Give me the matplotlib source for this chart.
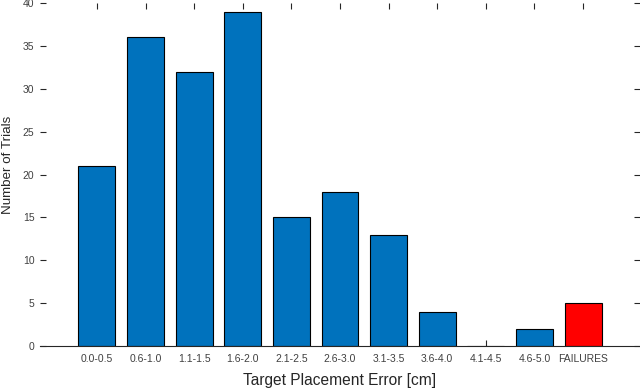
import matplotlib
matplotlib.use("Agg")
import matplotlib.pyplot as plt
import numpy as np

matplotlib.rcParams.update({"font.family": ["Liberation Sans", "DejaVu Sans"]})

categories = ["0.0-0.5", "0.6-1.0", "1.1-1.5", "1.6-2.0", "2.1-2.5", "2.6-3.0",
              "3.1-3.5", "3.6-4.0", "4.1-4.5", "4.6-5.0", "FAILURES"]
trials = [21, 36, 32, 39, 15, 18, 13, 4, 0, 2, 5]

x = np.arange(1, len(categories) + 1)
colors = ["#0072BD"] * (len(categories) - 1) + ["#FF0000"]

fig = plt.figure(figsize=(6.4, 3.88), dpi=100)
ax = fig.add_axes([0.0625, 0.108, 0.9375, 0.884])

ax.bar(x, trials, width=0.76, color=colors, edgecolor="black", linewidth=0.8, zorder=2)

ax.set_xlim(-0.17, 12.17)
ax.set_ylim(0, 40)
ax.set_xticks(x)
ax.set_xticklabels(categories)
ax.set_yticks(np.arange(0, 41, 5))

for side in ["top", "right", "left"]:
    ax.spines[side].set_visible(False)
ax.spines["bottom"].set_color("#262626")
ax.spines["bottom"].set_linewidth(0.8)

ax.tick_params(axis="both", direction="in", length=4, width=0.8, color="#262626",
               labelsize=7.5, labelcolor="#404040", top=True, right=True)
ax.tick_params(axis="y", pad=4)
ax.tick_params(axis="x", pad=6)
for t in ax.get_xticklines() + ax.get_yticklines():
    t.set_zorder(3)

ax.set_xlabel("Target Placement Error [cm]", fontsize=11.2, color="#262626", labelpad=6)
ax.set_ylabel("Number of Trials", fontsize=9.6, color="#262626")
ax.yaxis.set_label_coords(-0.043, 0.528)

fig.savefig("out.png", dpi=100)
